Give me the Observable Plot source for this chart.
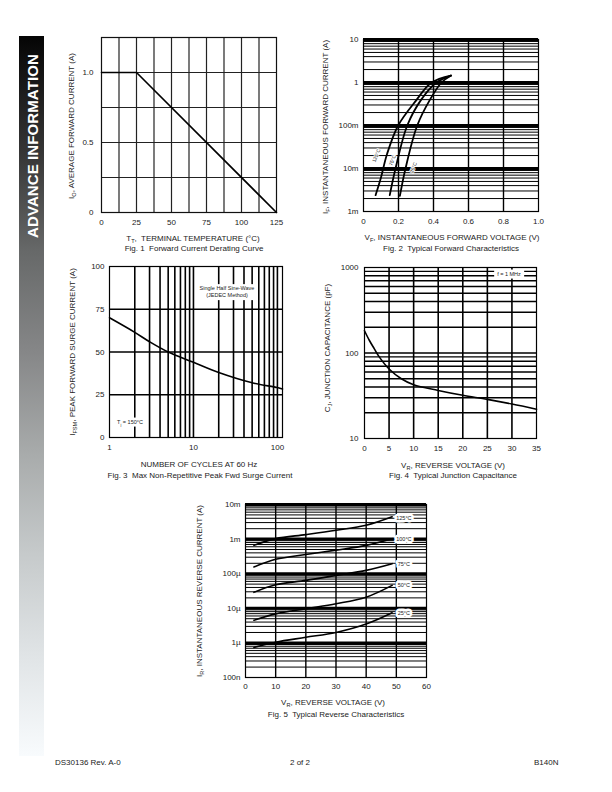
<!DOCTYPE html>
<html><head><meta charset="utf-8">
<script src="https://cdn.jsdelivr.net/npm/d3@7"></script>
<script src="https://cdn.jsdelivr.net/npm/@observablehq/plot@0.6"></script>
<style>
html,body{margin:0;padding:0}
body{width:612px;height:792px;position:relative;background:#fff;font-family:"Liberation Sans",Arial,sans-serif;overflow:hidden;color:#222}
.t{position:absolute;white-space:nowrap;transform:translate(-50%,-50%);font-size:8px;line-height:1}
.y{position:absolute;white-space:nowrap;transform:translate(-50%,-50%) rotate(-90deg);font-size:8px;line-height:1}
sub{font-size:70%;vertical-align:-2px;line-height:0}
.box{position:absolute;background:#fff;font-size:5.5px;line-height:1.25;text-align:center;white-space:nowrap;transform:translate(-50%,-50%);padding:1px 3px}
#side{position:absolute;left:19px;top:36px;width:25px;height:720px;background:linear-gradient(to bottom,#050505 0%,#353535 16%,#676969 30%,#868788 44%,#a8abab 58%,#c6cacb 72%,#e0e4e6 86%,#f8fbfd 100%)}
#side span{position:absolute;left:50%;top:110px;transform:translate(-50%,-50%) rotate(-90deg);color:#fff;font-weight:bold;font-size:15px;white-space:nowrap;letter-spacing:0.1px}
.foot{position:absolute;top:758px;font-size:8px;white-space:nowrap}
</style></head><body>
<div id="side"><span>ADVANCE INFORMATION</span></div>
<script>
// ---------- Fig. 1 data ----------
const f1Temp = [0, 25, 125];
const f1Current = [1.0, 1.0, 0];
const f1XTicks = [0, 25, 50, 75, 100, 125];
const f1YTicks = [0, 0.5, 1.0];
const f1YLabels = ["0", "0.5", "1.0"];
const f1XGrid = [12.5, 25, 37.5, 50, 62.5, 75, 87.5, 100, 112.5];
const f1YGrid = [0.25, 0.5, 0.75, 1.0];

// ---------- Fig. 2 data ----------
const f2V125 = [0.069, 0.10, 0.135, 0.198, 0.30, 0.389, 0.50];
const f2I125 = [0.0024, 0.0062, 0.022, 0.1, 0.38, 1.0, 1.45];
const f2V75 = [0.15, 0.183, 0.25, 0.33, 0.417, 0.50];
const f2I75 = [0.0024, 0.01, 0.1, 0.4, 1.0, 1.45];
const f2V25 = [0.208, 0.24, 0.307, 0.38, 0.446, 0.50];
const f2I25 = [0.0023, 0.01, 0.1, 0.4, 1.0, 1.45];
const f2LabelText = ["125°C", "75°C", "25°C"];
const f2LabelV = [0.074, 0.166, 0.286];
const f2LabelI = [0.02, 0.0155, 0.0105];
const f2XTicks = [0, 0.2, 0.4, 0.6, 0.8, 1.0];
const f2XLabels = ["0", "0.2", "0.4", "0.6", "0.8", "1.0"];
const f2YTicks = [0.001, 0.01, 0.1, 1, 10];
const f2YLabels = ["1m", "10m", "100m", "1", "10"];

// ---------- Fig. 3 data ----------
const f3Cycles = [1, 2, 3, 5, 10, 20, 50, 100, 115];
const f3Surge = [70, 61.5, 56, 50, 44, 38, 32, 29.2, 28.3];
const f3XTicks = [1, 10, 100];
const f3YTicks = [0, 25, 50, 75, 100];

// ---------- Fig. 4 data ----------
const f4Volt = [0, 1, 2, 3, 5, 7.5, 10, 15, 20, 25, 30, 35];
const f4Cap = [182, 140, 112, 90, 65, 50, 42.5, 36.5, 32, 28.7, 25.3, 22];
const f4XTicks = [0, 5, 10, 15, 20, 25, 30, 35];
const f4YTicks = [10, 100, 1000];

// ---------- Fig. 5 data ----------
const f5Volt = [2.8, 10, 20, 30, 40, 48.6];
const f5I125 = [6.6e-4, 1.03e-3, 1.35e-3, 1.8e-3, 2.5e-3, 4.4e-3];
const f5I100 = [1.56e-4, 2.6e-4, 3.6e-4, 4.8e-4, 6.6e-4, 1.03e-3];
const f5I75 = [2.9e-5, 4.8e-5, 6.4e-5, 8.9e-5, 1.25e-4, 1.95e-4];
const f5I50 = [4.5e-6, 6.9e-6, 9.7e-6, 1.35e-5, 2.1e-5, 4.6e-5];
const f5I25 = [7.4e-7, 1.05e-6, 1.45e-6, 2.0e-6, 3.5e-6, 7.4e-6];
const f5LabelText = ["125°C", "100°C", "75°C", "50°C", "25°C"];
const f5LabelV = [52.5, 52.5, 52.5, 52.5, 52.5];
const f5LabelI = [3.9e-3, 1.0e-3, 1.94e-4, 4.6e-5, 7.4e-6];
const f5XTicks = [0, 10, 20, 30, 40, 50, 60];
const f5YTicks = [1e-7, 1e-6, 1e-5, 1e-4, 1e-3, 1e-2];
const f5YLabels = ["100n", "1µ", "10µ", "100µ", "1m", "10m"];

// ---------- helpers ----------
const FONT = '"Liberation Sans", Arial, sans-serif';
function place(opts, frame, m) {
  const [x0, y0, x1, y1] = frame;
  const p = Plot.plot({
    ...opts,
    width: x1 - x0 + m.l + m.r,
    height: y1 - y0 + m.t + m.b,
    marginLeft: m.l, marginRight: m.r, marginTop: m.t, marginBottom: m.b,
    style: {fontFamily: FONT, fontSize: "8px", color: "#222", background: "transparent", overflow: "visible"}
  });
  p.style.position = "absolute";
  p.style.left = (x0 - m.l) + "px";
  p.style.top = (y0 - m.t) + "px";
  document.body.appendChild(p);
}
function logGrid(a, b) { return d3.scaleLog().domain([a, b]).ticks().filter(v => v > a && v < b); }
function isDecade(v) { const l = Math.log10(v); return Math.abs(l - Math.round(l)) < 1e-9; }
const M = {l: 34, r: 12, t: 10, b: 22};

// ---------- Fig. 1 ----------
place({
  x: {domain: [0, 125]},
  y: {domain: [0, 1.25]},
  marks: [
    Plot.ruleX(f1XGrid, {stroke: "#222", strokeWidth: 1.2}),
    Plot.ruleY(f1YGrid, {stroke: "#222", strokeWidth: 1.2}),
    Plot.frame({stroke: "#111", strokeWidth: 1.2}),
    Plot.line(f1Temp.map((t, i) => ({t, c: f1Current[i]})), {x: "t", y: "c", stroke: "#000", strokeWidth: 1.6}),
    Plot.axisX(f1XTicks, {tickSize: 0, tickPadding: 7, label: null}),
    Plot.axisY(f1YTicks, {tickSize: 0, tickPadding: 8, label: null, tickFormat: d => f1YLabels[f1YTicks.indexOf(d)]})
  ]
}, [101, 37, 276, 212], M);

// ---------- Fig. 2 ----------
const f2Grid = logGrid(1e-3, 10);
const f2Data = [
  ...f2V125.map((v, i) => ({v, i: f2I125[i], s: "125"})),
  ...f2V75.map((v, i) => ({v, i: f2I75[i], s: "75"})),
  ...f2V25.map((v, i) => ({v, i: f2I25[i], s: "25"}))
];
place({
  x: {domain: [0, 1]},
  y: {type: "log", domain: [1e-3, 10]},
  marks: [
    Plot.ruleY(f2Grid.filter(v => !isDecade(v)), {stroke: "#000", strokeWidth: 1}),
    Plot.ruleY(f2Grid.filter(isDecade).concat([10]), {stroke: "#000", strokeWidth: 3.2}),
    Plot.ruleX([0.2, 0.4, 0.6, 0.8], {stroke: "#000", strokeWidth: 1.4}),
    Plot.frame({stroke: "#000", strokeWidth: 1.2}),
    Plot.line(f2Data, {x: "v", y: "i", z: "s", curve: "catmull-rom", stroke: "#000", strokeWidth: 1.8}),
    Plot.text(f2LabelText.map((t, k) => ({t, v: f2LabelV[k], i: f2LabelI[k]})), {x: "v", y: "i", text: "t", rotate: -68, fontSize: 5, fill: "#222", stroke: "#fff", strokeWidth: 1.5}),
    Plot.axisX(f2XTicks, {tickSize: 0, tickPadding: 7, label: null, tickFormat: d => f2XLabels[f2XTicks.indexOf(d)]}),
    Plot.axisY(f2YTicks, {tickSize: 0, tickPadding: 5, label: null, tickFormat: d => f2YLabels[f2YTicks.indexOf(d)]})
  ]
}, [363, 39, 538, 211], M);

// ---------- Fig. 3 ----------
const f3Grid = logGrid(1, 115);
place({
  x: {type: "log", domain: [1, 115]},
  y: {domain: [0, 100]},
  marks: [
    Plot.ruleX(f3Grid, {stroke: "#000", strokeWidth: 1.6}),
    Plot.ruleY([25, 50, 75], {stroke: "#000", strokeWidth: 1.6}),
    Plot.frame({stroke: "#000", strokeWidth: 1.2}),
    Plot.line(f3Cycles.map((c, i) => ({c, a: f3Surge[i]})), {x: "c", y: "a", curve: "catmull-rom", stroke: "#000", strokeWidth: 1.6}),
    Plot.axisX(f3XTicks, {tickSize: 0, tickPadding: 7, label: null, tickFormat: d => String(d)}),
    Plot.axisY(f3YTicks, {tickSize: 0, tickPadding: 5, label: null})
  ]
}, [109, 266, 282, 437], M);

// ---------- Fig. 4 ----------
const f4Grid = logGrid(10, 1000);
place({
  x: {domain: [0, 35]},
  y: {type: "log", domain: [10, 1000]},
  marks: [
    Plot.ruleY(f4Grid, {stroke: "#000", strokeWidth: 1.4}),
    Plot.ruleX([5, 10, 15, 20, 25, 30], {stroke: "#000", strokeWidth: 1.6}),
    Plot.frame({stroke: "#000", strokeWidth: 1.2}),
    Plot.line(f4Volt.map((v, i) => ({v, c: f4Cap[i]})), {x: "v", y: "c", curve: "catmull-rom", stroke: "#000", strokeWidth: 1.6}),
    Plot.axisX(f4XTicks, {tickSize: 0, tickPadding: 7, label: null}),
    Plot.axisY(f4YTicks, {tickSize: 0, tickPadding: 6, label: null, tickFormat: d => String(d)})
  ]
}, [364, 267, 536, 438], M);

// ---------- Fig. 5 ----------
const f5Grid = logGrid(1e-7, 1e-2);
const f5Series = [["125", f5I125], ["100", f5I100], ["75", f5I75], ["50", f5I50], ["25", f5I25]];
const f5Data = f5Series.flatMap(([s, arr]) => f5Volt.map((v, i) => ({v, i: arr[i], s})));
place({
  x: {domain: [0, 60]},
  y: {type: "log", domain: [1e-7, 1e-2]},
  marks: [
    Plot.ruleY(f5Grid.filter(v => !isDecade(v)), {stroke: "#000", strokeWidth: 1}),
    Plot.ruleY(f5Grid.filter(isDecade).concat([1e-2]), {stroke: "#000", strokeWidth: 3}),
    Plot.ruleX([10, 20, 30, 40, 50], {stroke: "#000", strokeWidth: 1.4}),
    Plot.frame({stroke: "#000", strokeWidth: 1.2}),
    Plot.line(f5Data, {x: "v", y: "i", z: "s", curve: "catmull-rom", stroke: "#000", strokeWidth: 1.6}),
    Plot.text(f5LabelText.map((t, k) => ({t, v: f5LabelV[k], i: f5LabelI[k]})), {x: "v", y: "i", text: "t", fontSize: 5.5, fill: "#222", stroke: "#fff", strokeWidth: 5}),
    Plot.axisX(f5XTicks, {tickSize: 0, tickPadding: 6, label: null}),
    Plot.axisY(f5YTicks, {tickSize: 0, tickPadding: 5, label: null, tickFormat: d => f5YLabels[f5YTicks.indexOf(d)]})
  ]
}, [245, 504, 426, 677], M);

// ---------- text (labels, captions, footer) ----------
const texts = [
  ["t", 193, 239, "T<sub>T</sub>,&nbsp; TERMINAL TEMPERATURE (°C)"],
  ["t", 194, 249, "Fig. 1&nbsp; Forward Current Derating Curve"],
  ["y", 72, 126, "I<sub>O</sub>, AVERAGE FORWARD CURRENT (A)"],
  ["t", 452, 238, "V<sub>F</sub>, INSTANTANEOUS FORWARD VOLTAGE (V)"],
  ["t", 451, 249, "Fig. 2&nbsp; Typical Forward Characteristics"],
  ["y", 326, 127, "I<sub>F</sub>, INSTANTANEOUS FORWARD CURRENT (A)"],
  ["t", 199, 465, "NUMBER OF CYCLES AT 60 Hz"],
  ["t", 200, 476, "Fig. 3&nbsp; Max Non-Repetitive Peak Fwd Surge Current"],
  ["y", 73, 352, "I<sub>FSM</sub>, PEAK FORWARD SURGE CURRENT (A)"],
  ["t", 453, 466, "V<sub>R</sub>, REVERSE VOLTAGE (V)"],
  ["t", 453, 476, "Fig. 4&nbsp; Typical Junction Capacitance"],
  ["y", 328, 348, "C<sub>J</sub>, JUNCTION CAPACITANCE (pF)"],
  ["t", 333, 703, "V<sub>R</sub>, REVERSE VOLTAGE (V)"],
  ["t", 336, 715, "Fig. 5&nbsp; Typical Reverse Characteristics"],
  ["y", 200, 591, "I<sub>R</sub>, INSTANTANEOUS REVERSE CURRENT (A)"]
];
for (const [cls, x, y, html] of texts) {
  const d = document.createElement("div");
  d.className = cls; d.style.left = x + "px"; d.style.top = y + "px"; d.innerHTML = html;
  document.body.appendChild(d);
}
const boxes = [
  [227, 292, "Single Half Sine-Wave<br>(JEDEC Method)"],
  [509, 274, "f = 1 MHz"],
  [130, 422, "T<sub>j</sub> = 150°C"]
];
for (const [x, y, html] of boxes) {
  const d = document.createElement("div");
  d.className = "box"; d.style.left = x + "px"; d.style.top = y + "px"; d.innerHTML = html;
  document.body.appendChild(d);
}
const foot = [[55, "DS30136 Rev. A-0"], [290, "2 of 2"], [534, "B140N"]];
for (const [x, t] of foot) {
  const d = document.createElement("div");
  d.className = "foot"; d.style.left = x + "px"; d.textContent = t;
  document.body.appendChild(d);
}
</script>
</body></html>
